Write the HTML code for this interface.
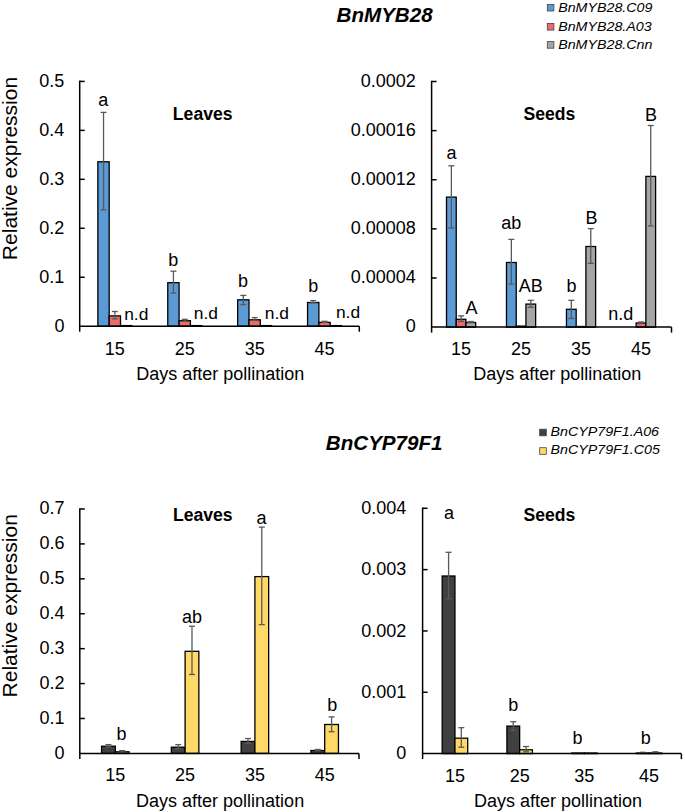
<!DOCTYPE html>
<html><head><meta charset="utf-8"><style>
html,body{margin:0;padding:0;background:#fff;width:685px;height:812px;overflow:hidden}
svg{display:block;font-family:"Liberation Sans", sans-serif;fill:#000}
text{fill:#000}
</style></head><body>
<svg width="685" height="812" viewBox="0 0 685 812">
<rect x="97.86" y="161.80" width="11.32" height="164.40" fill="#5B9BD5" stroke="#000" stroke-width="1.3"/>
<rect x="109.19" y="315.90" width="11.32" height="10.30" fill="#EB6B6B" stroke="#000" stroke-width="1.3"/>
<rect x="120.51" y="325.60" width="11.32" height="0.60" fill="#A5A5A5" stroke="#000" stroke-width="1.3"/>
<rect x="167.76" y="282.70" width="11.32" height="43.50" fill="#5B9BD5" stroke="#000" stroke-width="1.3"/>
<rect x="179.09" y="320.70" width="11.32" height="5.50" fill="#EB6B6B" stroke="#000" stroke-width="1.3"/>
<rect x="190.41" y="325.60" width="11.32" height="0.60" fill="#A5A5A5" stroke="#000" stroke-width="1.3"/>
<rect x="237.66" y="299.80" width="11.32" height="26.40" fill="#5B9BD5" stroke="#000" stroke-width="1.3"/>
<rect x="248.99" y="319.80" width="11.32" height="6.40" fill="#EB6B6B" stroke="#000" stroke-width="1.3"/>
<rect x="260.31" y="325.60" width="11.32" height="0.60" fill="#A5A5A5" stroke="#000" stroke-width="1.3"/>
<rect x="307.56" y="302.50" width="11.32" height="23.70" fill="#5B9BD5" stroke="#000" stroke-width="1.3"/>
<rect x="318.89" y="322.40" width="11.32" height="3.80" fill="#EB6B6B" stroke="#000" stroke-width="1.3"/>
<rect x="330.21" y="325.60" width="11.32" height="0.60" fill="#A5A5A5" stroke="#000" stroke-width="1.3"/>
<line x1="103.53" y1="112.40" x2="103.53" y2="209.90" stroke="#595959" stroke-width="1.3"/>
<line x1="100.53" y1="112.40" x2="106.53" y2="112.40" stroke="#595959" stroke-width="1.3"/>
<line x1="100.53" y1="209.90" x2="106.53" y2="209.90" stroke="#595959" stroke-width="1.3"/>
<line x1="114.85" y1="311.50" x2="114.85" y2="318.90" stroke="#595959" stroke-width="1.3"/>
<line x1="111.85" y1="311.50" x2="117.85" y2="311.50" stroke="#595959" stroke-width="1.3"/>
<line x1="111.85" y1="318.90" x2="117.85" y2="318.90" stroke="#595959" stroke-width="1.3"/>
<line x1="173.43" y1="271.20" x2="173.43" y2="293.10" stroke="#595959" stroke-width="1.3"/>
<line x1="170.43" y1="271.20" x2="176.43" y2="271.20" stroke="#595959" stroke-width="1.3"/>
<line x1="170.43" y1="293.10" x2="176.43" y2="293.10" stroke="#595959" stroke-width="1.3"/>
<line x1="184.75" y1="319.30" x2="184.75" y2="321.20" stroke="#595959" stroke-width="1.3"/>
<line x1="181.75" y1="319.30" x2="187.75" y2="319.30" stroke="#595959" stroke-width="1.3"/>
<line x1="181.75" y1="321.20" x2="187.75" y2="321.20" stroke="#595959" stroke-width="1.3"/>
<line x1="243.33" y1="295.40" x2="243.33" y2="304.60" stroke="#595959" stroke-width="1.3"/>
<line x1="240.33" y1="295.40" x2="246.33" y2="295.40" stroke="#595959" stroke-width="1.3"/>
<line x1="240.33" y1="304.60" x2="246.33" y2="304.60" stroke="#595959" stroke-width="1.3"/>
<line x1="254.65" y1="317.60" x2="254.65" y2="320.40" stroke="#595959" stroke-width="1.3"/>
<line x1="251.65" y1="317.60" x2="257.65" y2="317.60" stroke="#595959" stroke-width="1.3"/>
<line x1="251.65" y1="320.40" x2="257.65" y2="320.40" stroke="#595959" stroke-width="1.3"/>
<line x1="313.23" y1="300.60" x2="313.23" y2="302.80" stroke="#595959" stroke-width="1.3"/>
<line x1="310.23" y1="300.60" x2="316.23" y2="300.60" stroke="#595959" stroke-width="1.3"/>
<line x1="310.23" y1="302.80" x2="316.23" y2="302.80" stroke="#595959" stroke-width="1.3"/>
<line x1="324.55" y1="321.30" x2="324.55" y2="322.40" stroke="#595959" stroke-width="1.3"/>
<line x1="321.55" y1="321.30" x2="327.55" y2="321.30" stroke="#595959" stroke-width="1.3"/>
<line x1="321.55" y1="322.40" x2="327.55" y2="322.40" stroke="#595959" stroke-width="1.3"/>
<line x1="79.70" y1="80.65" x2="79.70" y2="331.70" stroke="#000" stroke-width="1.5"/>
<line x1="79.70" y1="326.20" x2="359.30" y2="326.20" stroke="#000" stroke-width="1.5"/>
<line x1="359.30" y1="326.20" x2="359.30" y2="331.70" stroke="#000" stroke-width="1.5"/>
<line x1="79.70" y1="81.40" x2="84.70" y2="81.40" stroke="#000" stroke-width="1.5"/>
<text x="64.40" y="86.80" font-size="18" text-anchor="end" font-weight="normal" font-style="normal" >0.5</text>
<line x1="79.70" y1="130.36" x2="84.70" y2="130.36" stroke="#000" stroke-width="1.5"/>
<text x="64.40" y="135.76" font-size="18" text-anchor="end" font-weight="normal" font-style="normal" >0.4</text>
<line x1="79.70" y1="179.32" x2="84.70" y2="179.32" stroke="#000" stroke-width="1.5"/>
<text x="64.40" y="184.72" font-size="18" text-anchor="end" font-weight="normal" font-style="normal" >0.3</text>
<line x1="79.70" y1="228.28" x2="84.70" y2="228.28" stroke="#000" stroke-width="1.5"/>
<text x="64.40" y="233.68" font-size="18" text-anchor="end" font-weight="normal" font-style="normal" >0.2</text>
<line x1="79.70" y1="277.24" x2="84.70" y2="277.24" stroke="#000" stroke-width="1.5"/>
<text x="64.40" y="282.64" font-size="18" text-anchor="end" font-weight="normal" font-style="normal" >0.1</text>
<text x="64.40" y="331.60" font-size="18" text-anchor="end" font-weight="normal" font-style="normal" >0</text>
<text x="114.85" y="354.60" font-size="18" text-anchor="middle" font-weight="normal" font-style="normal" >15</text>
<text x="184.75" y="354.60" font-size="18" text-anchor="middle" font-weight="normal" font-style="normal" >25</text>
<text x="254.65" y="354.60" font-size="18" text-anchor="middle" font-weight="normal" font-style="normal" >35</text>
<text x="324.55" y="354.60" font-size="18" text-anchor="middle" font-weight="normal" font-style="normal" >45</text>
<text x="220.20" y="380.00" font-size="18" text-anchor="middle" font-weight="normal" font-style="normal" >Days after pollination</text>
<rect x="446.51" y="197.10" width="9.72" height="130.00" fill="#5B9BD5" stroke="#000" stroke-width="1.3"/>
<rect x="456.23" y="319.30" width="9.72" height="7.80" fill="#EB6B6B" stroke="#000" stroke-width="1.3"/>
<rect x="465.95" y="322.50" width="9.72" height="4.60" fill="#A5A5A5" stroke="#000" stroke-width="1.3"/>
<rect x="506.49" y="262.50" width="9.72" height="64.60" fill="#5B9BD5" stroke="#000" stroke-width="1.3"/>
<rect x="516.20" y="326.10" width="9.72" height="1.00" fill="#EB6B6B" stroke="#000" stroke-width="1.3"/>
<rect x="525.92" y="304.10" width="9.72" height="23.00" fill="#A5A5A5" stroke="#000" stroke-width="1.3"/>
<rect x="566.46" y="309.30" width="9.72" height="17.80" fill="#5B9BD5" stroke="#000" stroke-width="1.3"/>
<rect x="576.18" y="326.50" width="9.72" height="0.60" fill="#EB6B6B" stroke="#000" stroke-width="1.3"/>
<rect x="585.90" y="246.50" width="9.72" height="80.60" fill="#A5A5A5" stroke="#000" stroke-width="1.3"/>
<rect x="636.15" y="323.00" width="9.72" height="4.10" fill="#EB6B6B" stroke="#000" stroke-width="1.3"/>
<rect x="645.87" y="176.40" width="9.72" height="150.70" fill="#A5A5A5" stroke="#000" stroke-width="1.3"/>
<line x1="451.37" y1="165.80" x2="451.37" y2="228.00" stroke="#595959" stroke-width="1.3"/>
<line x1="448.37" y1="165.80" x2="454.37" y2="165.80" stroke="#595959" stroke-width="1.3"/>
<line x1="448.37" y1="228.00" x2="454.37" y2="228.00" stroke="#595959" stroke-width="1.3"/>
<line x1="461.09" y1="315.90" x2="461.09" y2="321.40" stroke="#595959" stroke-width="1.3"/>
<line x1="458.09" y1="315.90" x2="464.09" y2="315.90" stroke="#595959" stroke-width="1.3"/>
<line x1="458.09" y1="321.40" x2="464.09" y2="321.40" stroke="#595959" stroke-width="1.3"/>
<line x1="470.80" y1="321.50" x2="470.80" y2="322.50" stroke="#595959" stroke-width="1.3"/>
<line x1="467.80" y1="321.50" x2="473.80" y2="321.50" stroke="#595959" stroke-width="1.3"/>
<line x1="467.80" y1="322.50" x2="473.80" y2="322.50" stroke="#595959" stroke-width="1.3"/>
<line x1="511.35" y1="239.40" x2="511.35" y2="284.20" stroke="#595959" stroke-width="1.3"/>
<line x1="508.35" y1="239.40" x2="514.35" y2="239.40" stroke="#595959" stroke-width="1.3"/>
<line x1="508.35" y1="284.20" x2="514.35" y2="284.20" stroke="#595959" stroke-width="1.3"/>
<line x1="530.78" y1="300.30" x2="530.78" y2="307.30" stroke="#595959" stroke-width="1.3"/>
<line x1="527.78" y1="300.30" x2="533.78" y2="300.30" stroke="#595959" stroke-width="1.3"/>
<line x1="527.78" y1="307.30" x2="533.78" y2="307.30" stroke="#595959" stroke-width="1.3"/>
<line x1="571.32" y1="300.30" x2="571.32" y2="318.50" stroke="#595959" stroke-width="1.3"/>
<line x1="568.32" y1="300.30" x2="574.32" y2="300.30" stroke="#595959" stroke-width="1.3"/>
<line x1="568.32" y1="318.50" x2="574.32" y2="318.50" stroke="#595959" stroke-width="1.3"/>
<line x1="590.75" y1="228.60" x2="590.75" y2="263.40" stroke="#595959" stroke-width="1.3"/>
<line x1="587.75" y1="228.60" x2="593.75" y2="228.60" stroke="#595959" stroke-width="1.3"/>
<line x1="587.75" y1="263.40" x2="593.75" y2="263.40" stroke="#595959" stroke-width="1.3"/>
<line x1="641.01" y1="322.00" x2="641.01" y2="323.00" stroke="#595959" stroke-width="1.3"/>
<line x1="638.01" y1="322.00" x2="644.01" y2="322.00" stroke="#595959" stroke-width="1.3"/>
<line x1="638.01" y1="323.00" x2="644.01" y2="323.00" stroke="#595959" stroke-width="1.3"/>
<line x1="650.73" y1="125.50" x2="650.73" y2="225.90" stroke="#595959" stroke-width="1.3"/>
<line x1="647.73" y1="125.50" x2="653.73" y2="125.50" stroke="#595959" stroke-width="1.3"/>
<line x1="647.73" y1="225.90" x2="653.73" y2="225.90" stroke="#595959" stroke-width="1.3"/>
<line x1="431.60" y1="80.75" x2="431.60" y2="332.60" stroke="#000" stroke-width="1.5"/>
<line x1="431.60" y1="327.10" x2="671.50" y2="327.10" stroke="#000" stroke-width="1.5"/>
<line x1="671.50" y1="327.10" x2="671.50" y2="332.60" stroke="#000" stroke-width="1.5"/>
<line x1="431.60" y1="81.50" x2="436.60" y2="81.50" stroke="#000" stroke-width="1.5"/>
<text x="415.80" y="86.80" font-size="18" text-anchor="end" font-weight="normal" font-style="normal" >0.0002</text>
<line x1="431.60" y1="130.62" x2="436.60" y2="130.62" stroke="#000" stroke-width="1.5"/>
<text x="415.80" y="135.92" font-size="18" text-anchor="end" font-weight="normal" font-style="normal" >0.00016</text>
<line x1="431.60" y1="179.74" x2="436.60" y2="179.74" stroke="#000" stroke-width="1.5"/>
<text x="415.80" y="185.04" font-size="18" text-anchor="end" font-weight="normal" font-style="normal" >0.00012</text>
<line x1="431.60" y1="228.86" x2="436.60" y2="228.86" stroke="#000" stroke-width="1.5"/>
<text x="415.80" y="234.16" font-size="18" text-anchor="end" font-weight="normal" font-style="normal" >0.00008</text>
<line x1="431.60" y1="277.98" x2="436.60" y2="277.98" stroke="#000" stroke-width="1.5"/>
<text x="415.80" y="283.28" font-size="18" text-anchor="end" font-weight="normal" font-style="normal" >0.00004</text>
<text x="415.80" y="332.40" font-size="18" text-anchor="end" font-weight="normal" font-style="normal" >0</text>
<text x="461.09" y="354.50" font-size="18" text-anchor="middle" font-weight="normal" font-style="normal" >15</text>
<text x="521.06" y="354.50" font-size="18" text-anchor="middle" font-weight="normal" font-style="normal" >25</text>
<text x="581.04" y="354.50" font-size="18" text-anchor="middle" font-weight="normal" font-style="normal" >35</text>
<text x="641.01" y="354.50" font-size="18" text-anchor="middle" font-weight="normal" font-style="normal" >45</text>
<text x="557.30" y="380.30" font-size="18" text-anchor="middle" font-weight="normal" font-style="normal" >Days after pollination</text>
<rect x="101.55" y="746.20" width="13.75" height="7.20" fill="#404040" stroke="#000" stroke-width="1.3"/>
<rect x="115.30" y="751.80" width="13.75" height="1.60" fill="#FFD966" stroke="#000" stroke-width="1.3"/>
<rect x="171.35" y="747.20" width="13.75" height="6.20" fill="#404040" stroke="#000" stroke-width="1.3"/>
<rect x="185.10" y="651.30" width="13.75" height="102.10" fill="#FFD966" stroke="#000" stroke-width="1.3"/>
<rect x="241.15" y="741.40" width="13.75" height="12.00" fill="#404040" stroke="#000" stroke-width="1.3"/>
<rect x="254.90" y="576.60" width="13.75" height="176.80" fill="#FFD966" stroke="#000" stroke-width="1.3"/>
<rect x="310.95" y="750.50" width="13.75" height="2.90" fill="#404040" stroke="#000" stroke-width="1.3"/>
<rect x="324.70" y="724.50" width="13.75" height="28.90" fill="#FFD966" stroke="#000" stroke-width="1.3"/>
<line x1="108.42" y1="744.60" x2="108.42" y2="747.00" stroke="#595959" stroke-width="1.3"/>
<line x1="105.42" y1="744.60" x2="111.42" y2="744.60" stroke="#595959" stroke-width="1.3"/>
<line x1="105.42" y1="747.00" x2="111.42" y2="747.00" stroke="#595959" stroke-width="1.3"/>
<line x1="122.18" y1="750.60" x2="122.18" y2="752.00" stroke="#595959" stroke-width="1.3"/>
<line x1="119.18" y1="750.60" x2="125.18" y2="750.60" stroke="#595959" stroke-width="1.3"/>
<line x1="119.18" y1="752.00" x2="125.18" y2="752.00" stroke="#595959" stroke-width="1.3"/>
<line x1="178.22" y1="744.60" x2="178.22" y2="748.60" stroke="#595959" stroke-width="1.3"/>
<line x1="175.22" y1="744.60" x2="181.22" y2="744.60" stroke="#595959" stroke-width="1.3"/>
<line x1="175.22" y1="748.60" x2="181.22" y2="748.60" stroke="#595959" stroke-width="1.3"/>
<line x1="191.98" y1="626.20" x2="191.98" y2="674.50" stroke="#595959" stroke-width="1.3"/>
<line x1="188.98" y1="626.20" x2="194.98" y2="626.20" stroke="#595959" stroke-width="1.3"/>
<line x1="188.98" y1="674.50" x2="194.98" y2="674.50" stroke="#595959" stroke-width="1.3"/>
<line x1="248.02" y1="738.50" x2="248.02" y2="743.50" stroke="#595959" stroke-width="1.3"/>
<line x1="245.02" y1="738.50" x2="251.02" y2="738.50" stroke="#595959" stroke-width="1.3"/>
<line x1="245.02" y1="743.50" x2="251.02" y2="743.50" stroke="#595959" stroke-width="1.3"/>
<line x1="261.78" y1="527.10" x2="261.78" y2="624.60" stroke="#595959" stroke-width="1.3"/>
<line x1="258.78" y1="527.10" x2="264.78" y2="527.10" stroke="#595959" stroke-width="1.3"/>
<line x1="258.78" y1="624.60" x2="264.78" y2="624.60" stroke="#595959" stroke-width="1.3"/>
<line x1="317.82" y1="749.50" x2="317.82" y2="750.60" stroke="#595959" stroke-width="1.3"/>
<line x1="314.82" y1="749.50" x2="320.82" y2="749.50" stroke="#595959" stroke-width="1.3"/>
<line x1="314.82" y1="750.60" x2="320.82" y2="750.60" stroke="#595959" stroke-width="1.3"/>
<line x1="331.58" y1="716.90" x2="331.58" y2="731.70" stroke="#595959" stroke-width="1.3"/>
<line x1="328.58" y1="716.90" x2="334.58" y2="716.90" stroke="#595959" stroke-width="1.3"/>
<line x1="328.58" y1="731.70" x2="334.58" y2="731.70" stroke="#595959" stroke-width="1.3"/>
<line x1="79.80" y1="508.25" x2="79.80" y2="758.90" stroke="#000" stroke-width="1.5"/>
<line x1="79.80" y1="753.40" x2="359.00" y2="753.40" stroke="#000" stroke-width="1.5"/>
<line x1="359.00" y1="753.40" x2="359.00" y2="758.90" stroke="#000" stroke-width="1.5"/>
<line x1="79.80" y1="509.00" x2="84.80" y2="509.00" stroke="#000" stroke-width="1.5"/>
<text x="64.50" y="514.30" font-size="18" text-anchor="end" font-weight="normal" font-style="normal" >0.7</text>
<line x1="79.80" y1="543.91" x2="84.80" y2="543.91" stroke="#000" stroke-width="1.5"/>
<text x="64.50" y="549.21" font-size="18" text-anchor="end" font-weight="normal" font-style="normal" >0.6</text>
<line x1="79.80" y1="578.83" x2="84.80" y2="578.83" stroke="#000" stroke-width="1.5"/>
<text x="64.50" y="584.13" font-size="18" text-anchor="end" font-weight="normal" font-style="normal" >0.5</text>
<line x1="79.80" y1="613.74" x2="84.80" y2="613.74" stroke="#000" stroke-width="1.5"/>
<text x="64.50" y="619.04" font-size="18" text-anchor="end" font-weight="normal" font-style="normal" >0.4</text>
<line x1="79.80" y1="648.66" x2="84.80" y2="648.66" stroke="#000" stroke-width="1.5"/>
<text x="64.50" y="653.96" font-size="18" text-anchor="end" font-weight="normal" font-style="normal" >0.3</text>
<line x1="79.80" y1="683.57" x2="84.80" y2="683.57" stroke="#000" stroke-width="1.5"/>
<text x="64.50" y="688.87" font-size="18" text-anchor="end" font-weight="normal" font-style="normal" >0.2</text>
<line x1="79.80" y1="718.49" x2="84.80" y2="718.49" stroke="#000" stroke-width="1.5"/>
<text x="64.50" y="723.79" font-size="18" text-anchor="end" font-weight="normal" font-style="normal" >0.1</text>
<text x="64.50" y="758.70" font-size="18" text-anchor="end" font-weight="normal" font-style="normal" >0</text>
<text x="115.30" y="781.20" font-size="18" text-anchor="middle" font-weight="normal" font-style="normal" >15</text>
<text x="185.10" y="781.20" font-size="18" text-anchor="middle" font-weight="normal" font-style="normal" >25</text>
<text x="254.90" y="781.20" font-size="18" text-anchor="middle" font-weight="normal" font-style="normal" >35</text>
<text x="324.70" y="781.20" font-size="18" text-anchor="middle" font-weight="normal" font-style="normal" >45</text>
<text x="220.10" y="806.70" font-size="18" text-anchor="middle" font-weight="normal" font-style="normal" >Days after pollination</text>
<rect x="442.20" y="576.00" width="12.75" height="177.60" fill="#404040" stroke="#000" stroke-width="1.3"/>
<rect x="454.95" y="738.20" width="12.75" height="15.40" fill="#FFD966" stroke="#000" stroke-width="1.3"/>
<rect x="506.90" y="726.10" width="12.75" height="27.50" fill="#404040" stroke="#000" stroke-width="1.3"/>
<rect x="519.65" y="749.80" width="12.75" height="3.80" fill="#FFD966" stroke="#000" stroke-width="1.3"/>
<rect x="571.60" y="753.00" width="12.75" height="0.60" fill="#404040" stroke="#000" stroke-width="1.3"/>
<rect x="584.35" y="753.00" width="12.75" height="0.60" fill="#FFD966" stroke="#000" stroke-width="1.3"/>
<rect x="636.30" y="753.00" width="12.75" height="0.60" fill="#404040" stroke="#000" stroke-width="1.3"/>
<rect x="649.05" y="753.00" width="12.75" height="0.60" fill="#FFD966" stroke="#000" stroke-width="1.3"/>
<line x1="448.58" y1="552.30" x2="448.58" y2="598.70" stroke="#595959" stroke-width="1.3"/>
<line x1="445.58" y1="552.30" x2="451.58" y2="552.30" stroke="#595959" stroke-width="1.3"/>
<line x1="445.58" y1="598.70" x2="451.58" y2="598.70" stroke="#595959" stroke-width="1.3"/>
<line x1="461.32" y1="727.70" x2="461.32" y2="747.20" stroke="#595959" stroke-width="1.3"/>
<line x1="458.32" y1="727.70" x2="464.32" y2="727.70" stroke="#595959" stroke-width="1.3"/>
<line x1="458.32" y1="747.20" x2="464.32" y2="747.20" stroke="#595959" stroke-width="1.3"/>
<line x1="513.28" y1="721.70" x2="513.28" y2="730.40" stroke="#595959" stroke-width="1.3"/>
<line x1="510.28" y1="721.70" x2="516.28" y2="721.70" stroke="#595959" stroke-width="1.3"/>
<line x1="510.28" y1="730.40" x2="516.28" y2="730.40" stroke="#595959" stroke-width="1.3"/>
<line x1="526.02" y1="746.50" x2="526.02" y2="751.80" stroke="#595959" stroke-width="1.3"/>
<line x1="523.02" y1="746.50" x2="529.02" y2="746.50" stroke="#595959" stroke-width="1.3"/>
<line x1="523.02" y1="751.80" x2="529.02" y2="751.80" stroke="#595959" stroke-width="1.3"/>
<line x1="642.68" y1="752.30" x2="642.68" y2="753.20" stroke="#595959" stroke-width="1.3"/>
<line x1="639.68" y1="752.30" x2="645.68" y2="752.30" stroke="#595959" stroke-width="1.3"/>
<line x1="639.68" y1="753.20" x2="645.68" y2="753.20" stroke="#595959" stroke-width="1.3"/>
<line x1="655.42" y1="751.80" x2="655.42" y2="753.00" stroke="#595959" stroke-width="1.3"/>
<line x1="652.42" y1="751.80" x2="658.42" y2="751.80" stroke="#595959" stroke-width="1.3"/>
<line x1="652.42" y1="753.00" x2="658.42" y2="753.00" stroke="#595959" stroke-width="1.3"/>
<line x1="422.60" y1="507.55" x2="422.60" y2="759.10" stroke="#000" stroke-width="1.5"/>
<line x1="422.60" y1="753.60" x2="681.40" y2="753.60" stroke="#000" stroke-width="1.5"/>
<line x1="681.40" y1="753.60" x2="681.40" y2="759.10" stroke="#000" stroke-width="1.5"/>
<line x1="422.60" y1="508.30" x2="427.60" y2="508.30" stroke="#000" stroke-width="1.5"/>
<text x="406.20" y="513.90" font-size="18" text-anchor="end" font-weight="normal" font-style="normal" >0.004</text>
<line x1="422.60" y1="569.62" x2="427.60" y2="569.62" stroke="#000" stroke-width="1.5"/>
<text x="406.20" y="575.23" font-size="18" text-anchor="end" font-weight="normal" font-style="normal" >0.003</text>
<line x1="422.60" y1="630.95" x2="427.60" y2="630.95" stroke="#000" stroke-width="1.5"/>
<text x="406.20" y="636.55" font-size="18" text-anchor="end" font-weight="normal" font-style="normal" >0.002</text>
<line x1="422.60" y1="692.28" x2="427.60" y2="692.28" stroke="#000" stroke-width="1.5"/>
<text x="406.20" y="697.88" font-size="18" text-anchor="end" font-weight="normal" font-style="normal" >0.001</text>
<text x="406.20" y="759.20" font-size="18" text-anchor="end" font-weight="normal" font-style="normal" >0</text>
<text x="454.95" y="781.50" font-size="18" text-anchor="middle" font-weight="normal" font-style="normal" >15</text>
<text x="519.65" y="781.50" font-size="18" text-anchor="middle" font-weight="normal" font-style="normal" >25</text>
<text x="584.35" y="781.50" font-size="18" text-anchor="middle" font-weight="normal" font-style="normal" >35</text>
<text x="649.05" y="781.50" font-size="18" text-anchor="middle" font-weight="normal" font-style="normal" >45</text>
<text x="558.00" y="807.00" font-size="18" text-anchor="middle" font-weight="normal" font-style="normal" >Days after pollination</text>
<text x="103.30" y="105.80" font-size="18" text-anchor="middle" font-weight="normal" font-style="normal" >a</text>
<text x="173.30" y="265.60" font-size="18" text-anchor="middle" font-weight="normal" font-style="normal" >b</text>
<text x="243.10" y="287.00" font-size="18" text-anchor="middle" font-weight="normal" font-style="normal" >b</text>
<text x="313.20" y="291.70" font-size="18" text-anchor="middle" font-weight="normal" font-style="normal" >b</text>
<text x="451.40" y="158.50" font-size="18" text-anchor="middle" font-weight="normal" font-style="normal" >a</text>
<text x="471.50" y="313.70" font-size="18" text-anchor="middle" font-weight="normal" font-style="normal" >A</text>
<text x="511.30" y="229.00" font-size="18" text-anchor="middle" font-weight="normal" font-style="normal" >ab</text>
<text x="530.80" y="291.50" font-size="18" text-anchor="middle" font-weight="normal" font-style="normal" >AB</text>
<text x="571.50" y="291.50" font-size="18" text-anchor="middle" font-weight="normal" font-style="normal" >b</text>
<text x="591.50" y="223.80" font-size="18" text-anchor="middle" font-weight="normal" font-style="normal" >B</text>
<text x="651.10" y="121.00" font-size="18" text-anchor="middle" font-weight="normal" font-style="normal" >B</text>
<text x="121.50" y="739.80" font-size="18" text-anchor="middle" font-weight="normal" font-style="normal" >b</text>
<text x="191.90" y="623.00" font-size="18" text-anchor="middle" font-weight="normal" font-style="normal" >ab</text>
<text x="261.50" y="524.40" font-size="18" text-anchor="middle" font-weight="normal" font-style="normal" >a</text>
<text x="332.30" y="710.70" font-size="18" text-anchor="middle" font-weight="normal" font-style="normal" >b</text>
<text x="449.00" y="518.50" font-size="18" text-anchor="middle" font-weight="normal" font-style="normal" >a</text>
<text x="513.20" y="711.00" font-size="18" text-anchor="middle" font-weight="normal" font-style="normal" >b</text>
<text x="577.40" y="743.70" font-size="18" text-anchor="middle" font-weight="normal" font-style="normal" >b</text>
<text x="645.80" y="743.70" font-size="18" text-anchor="middle" font-weight="normal" font-style="normal" >b</text>
<text x="124.20" y="319.60" font-size="17.4" text-anchor="start" font-weight="normal" font-style="normal" >n.d</text>
<text x="193.80" y="319.00" font-size="17.4" text-anchor="start" font-weight="normal" font-style="normal" >n.d</text>
<text x="264.80" y="318.60" font-size="17.4" text-anchor="start" font-weight="normal" font-style="normal" >n.d</text>
<text x="335.90" y="318.40" font-size="17.4" text-anchor="start" font-weight="normal" font-style="normal" >n.d</text>
<text x="608.30" y="320.10" font-size="18" text-anchor="start" font-weight="normal" font-style="normal" >n.d</text>
<text x="202.70" y="120.00" font-size="17.6" text-anchor="middle" font-weight="bold" font-style="normal" >Leaves</text>
<text x="549.40" y="120.20" font-size="17.6" text-anchor="middle" font-weight="bold" font-style="normal" >Seeds</text>
<text x="202.80" y="521.30" font-size="17.6" text-anchor="middle" font-weight="bold" font-style="normal" >Leaves</text>
<text x="549.40" y="521.40" font-size="17.6" text-anchor="middle" font-weight="bold" font-style="normal" >Seeds</text>
<text x="384.60" y="22.10" font-size="20.6" text-anchor="middle" font-weight="bold" font-style="italic" >BnMYB28</text>
<text x="384.20" y="450.20" font-size="20.6" text-anchor="middle" font-weight="bold" font-style="italic" >BnCYP79F1</text>
<text x="0" y="0" font-size="21" text-anchor="middle" transform="translate(17.3,168.5) rotate(-90)">Relative expression</text>
<text x="0" y="0" font-size="21" text-anchor="middle" transform="translate(17.3,605.8) rotate(-90)">Relative expression</text>
<rect x="547.3" y="4.4" width="6.6" height="6.6" fill="#5B9BD5" stroke="#444" stroke-width="0.8"/>
<text x="0" y="0" font-size="12.5" font-style="italic" transform="translate(558.2,12.0) scale(1.14,1)">BnMYB28.C09</text>
<rect x="547.3" y="23.5" width="6.6" height="6.6" fill="#EB6B6B" stroke="#444" stroke-width="0.8"/>
<text x="0" y="0" font-size="12.5" font-style="italic" transform="translate(558.2,30.7) scale(1.14,1)">BnMYB28.A03</text>
<rect x="547.3" y="41.6" width="6.6" height="6.6" fill="#A5A5A5" stroke="#444" stroke-width="0.8"/>
<text x="0" y="0" font-size="12.5" font-style="italic" transform="translate(558.2,49.2) scale(1.14,1)">BnMYB28.Cnn</text>
<rect x="539.7" y="429.2" width="6.6" height="6.6" fill="#404040" stroke="#444" stroke-width="0.8"/>
<text x="0" y="0" font-size="12.5" font-style="italic" transform="translate(550.6,435.9) scale(1.14,1)">BnCYP79F1.A06</text>
<rect x="539.7" y="447.7" width="6.6" height="6.6" fill="#FFD966" stroke="#444" stroke-width="0.8"/>
<text x="0" y="0" font-size="12.5" font-style="italic" transform="translate(550.6,454.4) scale(1.14,1)">BnCYP79F1.C05</text>
</svg>
</body></html>
